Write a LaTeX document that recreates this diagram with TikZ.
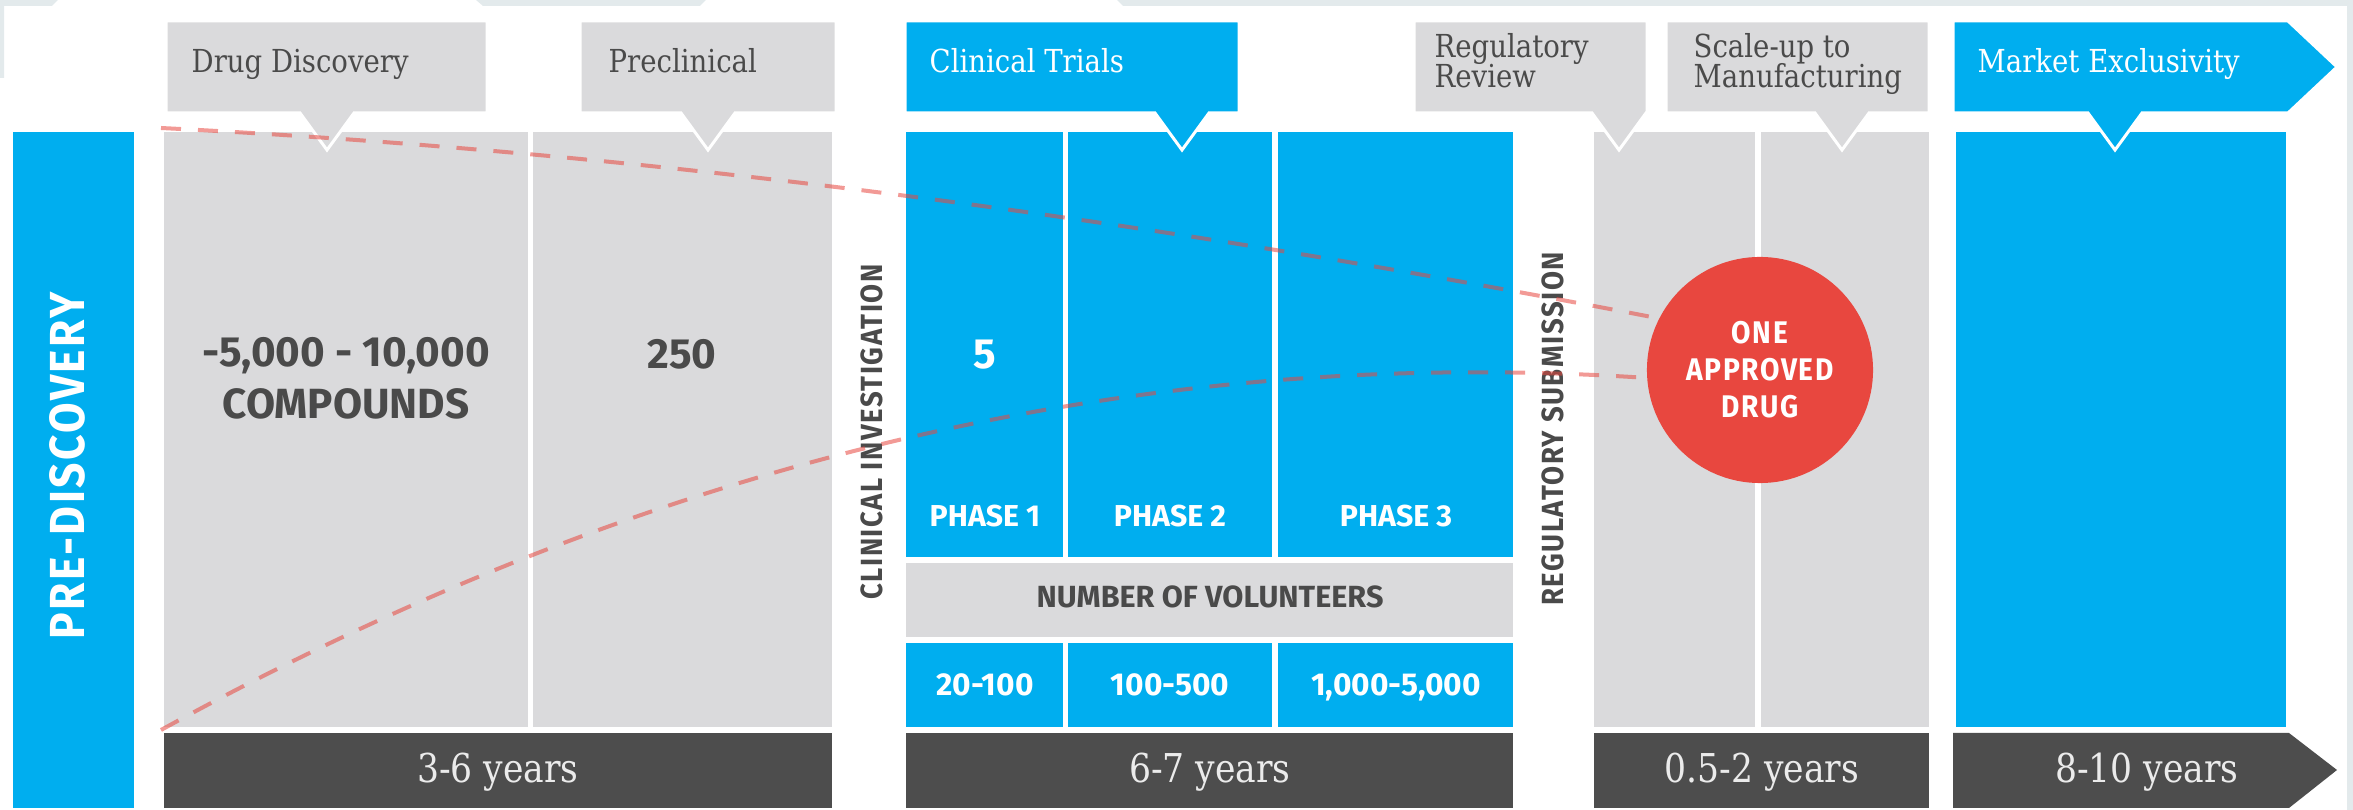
\documentclass[tikz,border=0pt]{standalone}
\usepackage{fontspec}
\usepackage{xcolor}
\newfontfamily\slabfont{DejaVu Serif}[FakeStretch=0.87]
\newfontfamily\labelfont{Fira Sans}
\newfontfamily\spacedfont{Fira Sans}[FakeStretch=0.9, LetterSpace=5]
\definecolor{pdblue}{HTML}{00AEEF}
\definecolor{pdgrey}{HTML}{DADADC}
\definecolor{pddark}{HTML}{4D4D4D}
\definecolor{pdtext}{HTML}{4A4A4A}
\definecolor{pdred}{HTML}{E8473F}
\definecolor{pdframe}{HTML}{E3EAEC}
\definecolor{pdyear}{HTML}{EBEBEB}

\begin{document}
\begin{tikzpicture}[
    x=0.01cm, y=-0.01cm,
    headtext/.style={font=\slabfont\fontsize{9}{8.8}\selectfont, text=pdtext, align=left, anchor=base west, inner sep=0pt},
    yeartext/.style={font=\slabfont\fontsize{11.3}{12}\selectfont, text=pdyear, anchor=base, inner sep=0pt},
    bignum/.style={font=\labelfont\bfseries\fontsize{12}{14.8}\selectfont, text=pdtext, align=center, anchor=base, inner sep=0pt},
    phasetext/.style={font=\labelfont\bfseries\fontsize{8.6}{10}\selectfont, text=white, anchor=base, inner sep=0pt},
    vlabel/.style={font=\spacedfont\bfseries\fontsize{8.7}{9}\selectfont, text=pdtext, rotate=90, inner sep=0pt},
    callout/.style={draw=white, line width=0.03cm, fill=#1},
    funnel/.style={pdred, opacity=0.55, line width=0.04cm, dash pattern=on 0.2cm off 0.17cm},
  ]
  \useasboundingbox (0,0) rectangle (2353,810);

  % page frame
  \fill[pdframe] (0,0) -- (58,0) -- (52,6) -- (4,6) -- (4,78) -- (0,78) -- cycle;
  \fill[pdframe] (476,0) -- (706,0) -- (700,6) -- (483,6) -- cycle;
  \fill[pdframe] (1117,0) -- (2353,0) -- (2353,810) -- (2347,810) -- (2347,6) -- (1123,6) -- cycle;

  % columns
  \fill[pdblue] (13,132) rectangle (134,808);
  \fill[pdgrey] (164,132) rectangle (528,727);
  \fill[pdgrey] (533,132) rectangle (832,727);
  \foreach \l/\r in {906/1063, 1068/1272, 1278/1513} {
    \fill[pdblue] (\l,132) rectangle (\r,557);
    \fill[pdblue] (\l,643) rectangle (\r,727);
  }
  \fill[pdgrey] (906,563) rectangle (1513,637);
  \fill[pdgrey] (1594,132) rectangle (1755,727);
  \fill[pdgrey] (1761,132) rectangle (1929,727);
  \fill[pdblue] (1956,132) rectangle (2286,727);

  % year bars
  \foreach \l/\r in {164/832, 906/1513, 1594/1929}
    \fill[pddark] (\l,733) rectangle (\r,808);
  \fill[pddark] (1953,733) -- (2289,733) -- (2337,770) -- (2289,808) -- (1953,808) -- cycle;

  % callouts
  \foreach \l/\r/\t/\c in {166/487/327/pdgrey, 580/836/708/pdgrey, 905/1239/1182/pdblue, 1414/1647/1619/pdgrey, 1666/1929/1842/pdgrey}
    \draw[callout=\c] (\l,21) -- (\r,21) -- (\r,113) -- (\t+27,113) -- (\t,150) -- (\t-27,113) -- (\l,113) -- cycle;
  \draw[callout=pdblue] (1953,21) -- (2288,21) -- (2337,67) -- (2288,113) -- (2142,113) -- (2115,150) -- (2088,113) -- (1953,113) -- cycle;

  \node[headtext] (hdisc) at (191,73) {Drug Discovery};
  \node[headtext] (hpre) at (608,73) {Preclinical};
  \node[headtext, text=white] (htrial) at (929,73) {Clinical Trials};
  \node[headtext] (hreview) at (1434,88) {Regulatory\\Review};
  \node[headtext] (hscale) at (1693,88) {Scale-up to\\Manufacturing};
  \node[headtext, text=white] (hmarket) at (1977,73) {Market Exclusivity};

  % counts per stage
  \node[bignum] (ncomp) at (346,419) {-5,000 - 10,000\\COMPOUNDS};
  \node[bignum] (npre) at (682,369) {250};
  \node[bignum, text=white] (ntrial) at (985,369) {5};
  \foreach \x/\n/\v in {985/1/20-100, 1170/2/100-500, 1396/3/{1,000-5,000}} {
    \node[phasetext] (phase\n) at (\x,527) {PHASE \n};
    \node[phasetext, font=\labelfont\bfseries\fontsize{9}{10}\selectfont] (vol\n) at (\x,696) {\v};
  }
  \node[phasetext, text=pdtext, font=\labelfont\bfseries\fontsize{8.7}{10}\selectfont] (volhead) at (1210,608) {NUMBER OF VOLUNTEERS};

  \node[yeartext] (y1) at (498,783) {3-6 years};
  \node[yeartext] (y2) at (1210,783) {6-7 years};
  \node[yeartext] (y3) at (1762,783) {0.5-2 years};
  \node[yeartext] (y4) at (2147,783) {8-10 years};

  \node[vlabel] (clin) at (872,432) {CLINICAL INVESTIGATION};
  \node[vlabel] (regsub) at (1553,429) {REGULATORY SUBMISSION};
  \node[vlabel, text=white, font=\spacedfont\bfseries\fontsize{14}{15}\selectfont] (predisc) at (67,466) {PRE-DISCOVERY};

  % funnel down to one drug
  \node[circle, fill=pdred, minimum size=2.26cm, inner sep=0pt, text=white, align=center,
    font=\spacedfont\bfseries\fontsize{8.9}{10.5}\selectfont] (drug) at (1760,370) {ONE\\APPROVED\\DRUG};
  \coordinate (ftop) at (161,128);
  \coordinate (fbot) at (161,730);
  \draw[funnel] (ftop) .. controls (658,153) and (1155,221) .. (drug.153);
  \draw[funnel] (fbot) .. controls (661,455) and (1150,345) .. (drug.184);
\end{tikzpicture}
\end{document}
